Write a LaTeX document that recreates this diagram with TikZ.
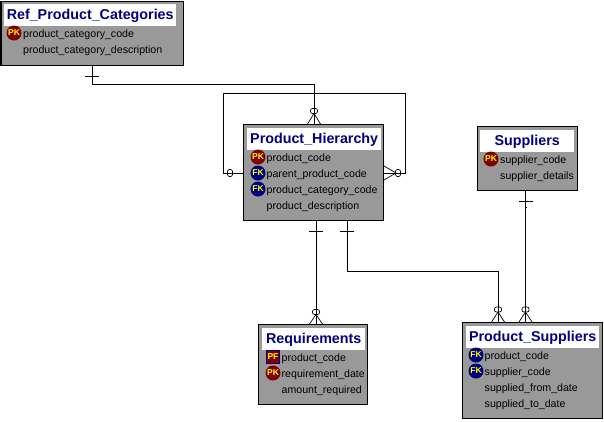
\documentclass[tikz,border=0pt]{standalone}
\usepackage{fontspec}
\setmainfont{Liberation Sans}
\definecolor{boxgray}{RGB}{153,153,153}
\definecolor{navyt}{RGB}{0,0,128}
\definecolor{darkr}{RGB}{128,0,0}
\definecolor{badgey}{RGB}{255,255,0}
\tikzset{
  x=1pt,y=-1pt,
  entity/.style={draw=black,line width=1.2pt,fill=boxgray,inner sep=0pt,anchor=north west},
  whitebar/.style={fill=white,minimum height=22pt,inner sep=0pt,anchor=north west},
  titlebox/.style={inner sep=0pt,anchor=center,yshift=-0.7pt,text=navyt,font=\fontsize{14.3}{16}\selectfont\bfseries},
  attr/.style={anchor=west,inner sep=0pt,yshift=-1.5pt,text=black,font=\fontsize{10.6}{12}\selectfont},
  badge/.style={circle,minimum size=15pt,inner sep=0pt,text=badgey,font=\fontsize{8.5}{9}\selectfont\bfseries},
  pk/.style={badge,fill=darkr},
  fk/.style={badge,fill=navyt},
  pf/.style={rectangle,draw=navyt,line width=.8pt,minimum size=12.5pt,inner sep=0pt,text=badgey,fill=darkr,font=\fontsize{8.5}{9}\selectfont\bfseries},
  rel/.style={draw=black,line width=.9pt},
  mk/.style={draw=black,line width=.7pt}
}
\begin{document}
\begin{tikzpicture}
\useasboundingbox (0,0) rectangle (604,421);
% routing points
\coordinate (a1) at (92,84); \coordinate (a2) at (314,84);
\coordinate (l1) at (223,173); \coordinate (l2) at (223,93);
\coordinate (l3) at (405,93); \coordinate (l4) at (405,173);
\coordinate (b1) at (347,271); \coordinate (b2) at (498,271);
\coordinate (c1) at (316,0); \coordinate (c2) at (525.5,0);
% entities
\node[entity,minimum width=182pt,minimum height=64pt] (ref) at (0.5,0.5) {};
\node[whitebar,minimum width=172pt] (refw) at (4,4) {};
\node[titlebox] (reft) at (refw.center) {Ref\_Product\_Categories};
\node[pk] (r1b) at (14,33) {PK};
\node[attr] (r1) at (23,33) {product\_category\_code};
\node[attr] (r2) at (23,49) {product\_category\_description};

\node[entity,minimum width=140pt,minimum height=96pt] (ph) at (243,124) {};
\node[whitebar,minimum width=134pt] (phw) at (247,128) {};
\node[titlebox] (pht) at (phw.center) {Product\_Hierarchy};
\node[pk] (p1b) at (258,157) {PK};
\node[attr] (p1) at (266.5,157) {product\_code};
\node[fk] (p2b) at (258,173) {FK};
\node[attr] (p2) at (266.5,173) {parent\_product\_code};
\node[fk] (p3b) at (258,189) {FK};
\node[attr] (p3) at (266.5,189) {product\_category\_code};
\node[attr] (p4) at (266.5,205) {product\_description};

\node[entity,minimum width=100pt,minimum height=64pt] (sup) at (477,126) {};
\node[whitebar,minimum width=94pt] (supw) at (480,130) {};
\node[titlebox] (supt) at (supw.center) {Suppliers};
\node[pk] (s1b) at (491,159) {PK};
\node[attr] (s1) at (500,159) {supplier\_code};
\node[attr] (s2) at (500,175) {supplier\_details};

\node[entity,minimum width=109pt,minimum height=80pt] (req) at (258,324) {};
\node[whitebar,minimum width=103pt] (reqw) at (262,328) {};
\node[titlebox] (reqt) at (reqw.center) {Requirements};
\node[pf] (q1b) at (273,357) {PF};
\node[attr] (q1) at (281.5,357) {product\_code};
\node[pk] (q2b) at (273,373) {PK};
\node[attr] (q2) at (281.5,373) {requirement\_date};
\node[attr] (q3) at (281.5,389) {amount\_required};

\node[entity,minimum width=140pt,minimum height=96pt] (ps) at (462,322) {};
\node[whitebar,minimum width=133pt] (psw) at (466,326) {};
\node[titlebox] (pst) at (psw.center) {Product\_Suppliers};
\node[fk] (t1b) at (476,355) {FK};
\node[attr] (t1) at (484.5,355) {product\_code};
\node[fk] (t2b) at (476,371) {FK};
\node[attr] (t2) at (484.5,371) {supplier\_code};
\node[attr] (t3) at (484.5,387) {supplied\_from\_date};
\node[attr] (t4) at (484.5,403) {supplied\_to\_date};
% connectors
\draw[rel] (ref.south -| a1) -- (a1) -- (a2) -- (ph.north -| a2);
\draw[rel] (ph.west |- l1) -- (l1) -- (l2) -- (l3) -- (l4) -- (ph.east |- l4);
\draw[rel] (ph.south -| c1) -- (req.north -| c1);
\draw[rel] (ph.south -| b1) -- (b1) -- (b2) -- (ps.north -| b2);
\draw[rel] (sup.south -| c2) -- (ps.north -| c2);
% one-bars
\draw[mk] (85,76) -- (99,76);
\draw[mk] (309,231) -- (323,231);
\draw[mk] (340,231) -- (354,231);
\draw[mk] (519,201) -- (533,201);
\draw[mk] (316,273) -- (317,273);
\draw[mk] (525.5,207) -- (526.5,207);
% crow's feet
\draw[mk] (307.5,124) -- (314,113.5) -- (320.5,124);
\draw[mk] (309.5,324) -- (316,314.5) -- (322.5,324);
\draw[mk] (491.5,322) -- (498,312) -- (504.5,322);
\draw[mk] (519,322) -- (525.5,312) -- (532,322);
\draw[mk] (384,166) -- (396,173) -- (384,180);
% rings
\foreach \x/\y in {314/111,316/312,498/309.5,525.5/309.5}{
  \draw[mk,fill=white,rounded corners=2pt] (\x-3.5,\y-2.5) rectangle (\x+3.5,\y+2.5);
  \draw[mk] (\x,\y-3) -- (\x,\y+3);
}
\foreach \x/\y in {230/173,398/173}{
  \draw[mk,fill=white,rounded corners=2pt] (\x-2.5,\y-3.5) rectangle (\x+2.5,\y+3.5);
  \draw[mk] (\x-3,\y) -- (\x+3,\y);
}
\end{tikzpicture}
\end{document}
